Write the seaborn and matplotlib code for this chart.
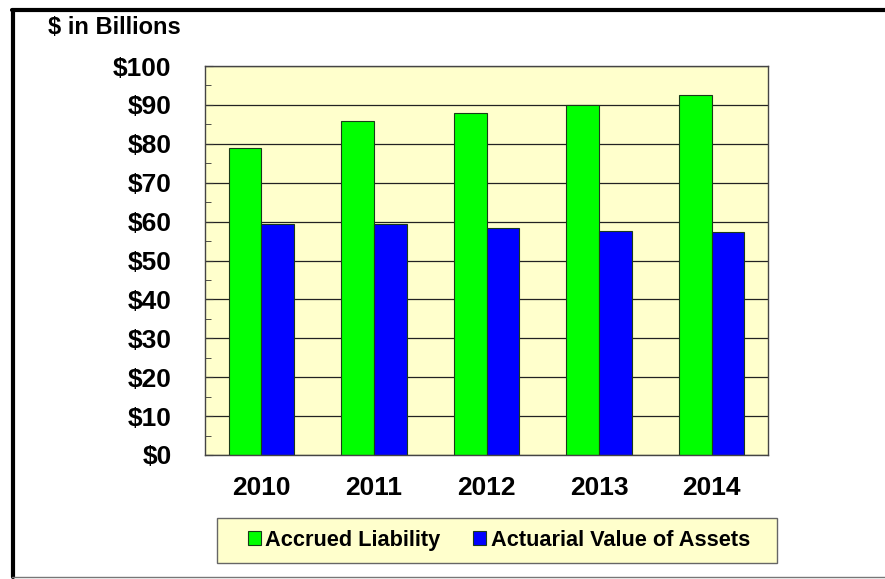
import pandas as pd
import numpy as np
import matplotlib
matplotlib.use("Agg")
import matplotlib.pyplot as plt
import seaborn as sns
from matplotlib.lines import Line2D
from matplotlib.patches import Rectangle
from matplotlib.ticker import MultipleLocator

# ---------------- data ----------------
years = ["2010", "2011", "2012", "2013", "2014"]
accrued_liability = [79.0, 85.8, 87.9, 90.0, 92.5]
actuarial_assets = [59.5, 59.3, 58.3, 57.6, 57.4]
series_names = ["Accrued Liability", "Actuarial Value of Assets"]

df = pd.DataFrame({
    "year": years * 2,
    "value": accrued_liability + actuarial_assets,
    "series": [series_names[0]] * len(years) + [series_names[1]] * len(years),
})

# ---------------- plot ----------------
sns.set_style("white")
plt.rcParams["font.family"] = ["Liberation Sans", "DejaVu Sans"]
plt.rcParams["font.weight"] = "bold"
plt.rcParams["text.color"] = "black"
plt.rcParams["xtick.labelcolor"] = "black"
plt.rcParams["ytick.labelcolor"] = "black"

fig = plt.figure(figsize=(8.85, 5.79), dpi=100)
ax = fig.add_axes([205 / 885, 124 / 579, 563 / 885, 389 / 579])
ax.set_facecolor("#FFFFCC")

sns.barplot(data=df, x="year", y="value", hue="series", ax=ax,
            palette=["#00FF00", "#0000FF"], width=0.58, saturation=1,
            edgecolor="#1a3a1a", linewidth=0.8, legend=False)

ax.set_ylim(0, 100)
ax.yaxis.set_major_locator(MultipleLocator(10))
ax.yaxis.set_minor_locator(MultipleLocator(5))
ax.set_yticklabels([f"${int(v)}" for v in ax.get_yticks()])
ax.grid(axis="y", which="major", color="#222222", linewidth=0.9)
ax.set_axisbelow(True)
ax.tick_params(axis="y", which="major", direction="in", length=6, color="#333333",
               labelsize=19, pad=24, left=True, labelcolor="black")
ax.tick_params(axis="y", which="minor", direction="in", length=4, color="#333333", left=True)
ax.tick_params(axis="x", length=0, labelsize=19, pad=15, labelcolor="black")
for lab in ax.get_xticklabels() + ax.get_yticklabels():
    lab.set_fontweight("bold")
ax.set_xlabel("")
ax.set_ylabel("")
for s in ax.spines.values():
    s.set_color("#444444")
    s.set_linewidth(1.0)

fig.text(114 / 885, 1 - 27.5 / 579, "$ in Billions", fontsize=17, fontweight="bold",
         ha="center", va="center", color="black")

# legend box + legend
fig.add_artist(Rectangle((217 / 885, 1 - 563 / 579), 560 / 885, 45 / 579,
                         facecolor="#FFFFCC", edgecolor="#666666", linewidth=1.0,
                         transform=fig.transFigure, zorder=1))
handles = [Rectangle((0, 0), 1, 1, facecolor=c, edgecolor="#1a3a1a", linewidth=0.8)
           for c in ["#00FF00", "#0000FF"]]
leg = fig.legend(handles, series_names, loc="center", ncol=2,
                 bbox_to_anchor=(499 / 885, 1 - 540.5 / 579),
                 prop={"weight": "bold", "size": 15.7}, frameon=False,
                 handlelength=0.6, handleheight=0.6, handletextpad=0.2,
                 columnspacing=1.5, borderpad=0, borderaxespad=0)
for t in leg.get_texts():
    t.set_color("black")
leg.set_zorder(2)

# outer border
fig.add_artist(Line2D([13 / 885, 13 / 885], [1 - 10 / 579, 1 - 577 / 579],
                      color="black", linewidth=3, transform=fig.transFigure))
fig.add_artist(Line2D([12 / 885, 1.0], [1 - 10 / 579, 1 - 10 / 579],
                      color="black", linewidth=3, transform=fig.transFigure))
fig.add_artist(Line2D([12 / 885, 1.0], [1 - 577 / 579, 1 - 577 / 579],
                      color="#777777", linewidth=1, transform=fig.transFigure))

plt.savefig("out.png", dpi=100)
